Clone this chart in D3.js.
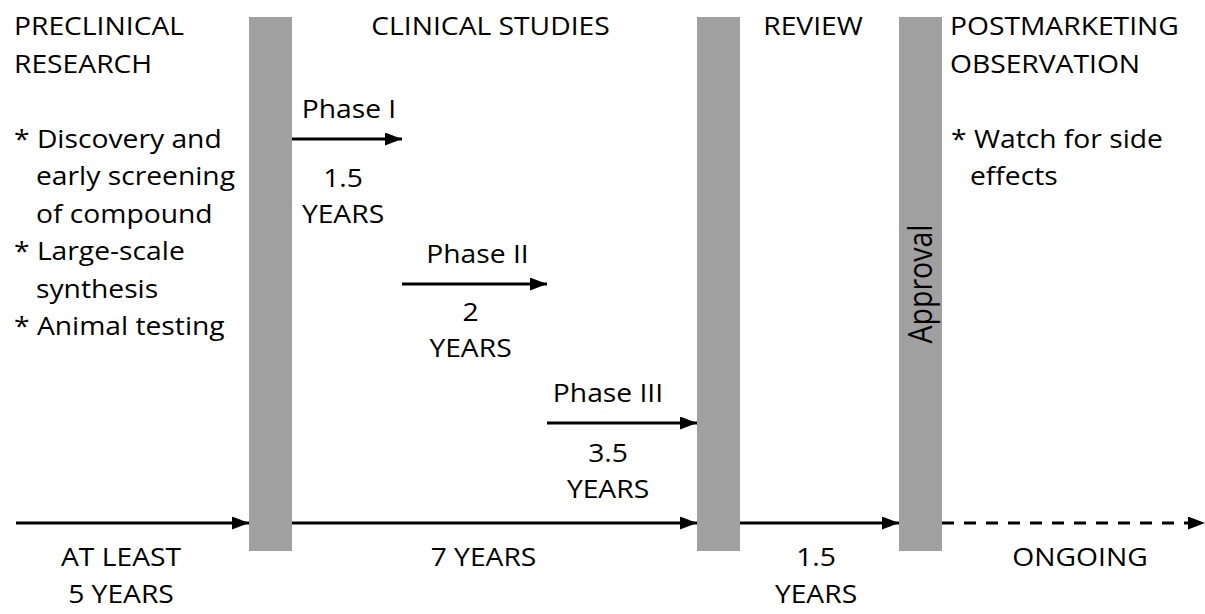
<!DOCTYPE html>
<html>
<head>
<meta charset="utf-8">
<script src="https://cdn.jsdelivr.net/npm/d3@7"></script>
<style>
  body { margin: 0; background: #fff; }
  text { font-family: "Open Sans", "Noto Sans", sans-serif; font-size: 25px; fill: #000; }
</style>
</head>
<body>
<div id="chart"></div>
<script>
// stages between the gray gates
var stageTitles = [["PRECLINICAL", "RESEARCH"], ["CLINICAL STUDIES"], ["REVIEW"], ["POSTMARKETING", "OBSERVATION"]];
var stageDurations = [["AT LEAST", "5 YEARS"], ["7 YEARS"], ["1.5", "YEARS"], ["ONGOING"]];
var stageNotes = [
  ["* Discovery and", "  early screening", "  of compound", "* Large-scale", "  synthesis", "* Animal testing"],
  [], [],
  ["* Watch for side", "  effects"]
];
var gates = ["", "", "Approval"];

// clinical phases
var phases = ["Phase I", "Phase II", "Phase III"];
var phaseYears = ["1.5", "2", "3.5"];

var width = 1205, height = 614;
var stretch = 1.13;   // reference lettering is a bit wide

var svg = d3.select("#chart").append("svg").attr("width", width).attr("height", height);

svg.append("defs").append("marker")
    .attr("id", "head")
    .attr("viewBox", "0 0 17 13")
    .attr("refX", 17).attr("refY", 6.5)
    .attr("markerWidth", 17).attr("markerHeight", 13)
    .attr("markerUnits", "userSpaceOnUse")
    .attr("orient", "auto")
  .append("path").attr("d", "M0,0L17,6.5L0,13Z").attr("fill", "#000");

// gate i sits at x(i+1), stage k runs from x(k) to x(k+1)
var x = d3.scaleLinear().domain([0, 1, 2, 3, 4]).range([-21.5, 270.5, 718.5, 920.5, 1226.5]);
var gateW = 43;
var y = d3.scaleLinear().domain([0, 1]).range([17, 551]);
var lineY = 523;

// phase scale inside the clinical stage
var px = d3.scaleLinear().domain([0, 1, 2, 3]).range([x(1) + gateW / 2, 402, 547, x(2) - gateW / 2]);

function block(sel, cx, cy, lines, anchor, lh, indent) {
  var t = sel.append("text")
      .attr("text-anchor", anchor)
      .attr("transform", "translate(" + cx + "," + cy + ") scale(" + stretch + ",1)");
  lines.forEach(function(s, j) {
    var cont = s.indexOf("  ") == 0;
    t.append("tspan")
        .attr("x", cont ? (indent || 0) / stretch : 0)
        .attr("y", j * lh)
        .text(s.trim());
  });
  return t;
}

// gray gate bars
svg.selectAll("rect.gate").data(gates).enter().append("rect")
    .attr("class", "gate")
    .attr("x", function(d, i) { return x(i + 1) - gateW / 2; })
    .attr("y", y(0))
    .attr("width", gateW)
    .attr("height", y(1) - y(0))
    .attr("fill", "#a0a0a0");

svg.selectAll("text.gate").data(gates).enter().append("text")
    .attr("class", "gate")
    .style("font-size", "28.5px")
    .attr("transform", function(d, i) { return "translate(" + (x(i + 1) + 11.5) + ",284) rotate(-90) scale(1," + stretch + ")"; })
    .attr("text-anchor", "middle")
    .text(function(d) { return d; });

// main timeline arrows
svg.selectAll("line.main").data(stageTitles).enter().append("line")
    .attr("class", "main")
    .attr("x1", function(d, i) { return i == 0 ? 16 : x(i) + gateW / 2; })
    .attr("x2", function(d, i) { return i == 3 ? width : x(i + 1) - gateW / 2; })
    .attr("y1", lineY).attr("y2", lineY)
    .attr("stroke", "#000")
    .attr("stroke-width", 3)
    .attr("stroke-dasharray", function(d, i) { return i == 3 ? "12,10" : null; })
    .attr("marker-end", "url(#head)");

// stage titles and notes
var titleAnchor = ["start", "middle", "middle", "start"];
var titleX = [14, (x(1) + x(2)) / 2 - 4, 813, x(3) + gateW / 2 + 8];
stageTitles.forEach(function(d, i) {
  block(svg, titleX[i], 35, d, titleAnchor[i], 38);
});
stageNotes.forEach(function(d, i) {
  if (d.length) block(svg, i == 0 ? 14 : titleX[i] + 1, 148, d, "start", 37.5, i == 0 ? 22 : 19);
});

// durations under the timeline
var durX = [121, (x(1) + x(2)) / 2 - 11, 816, 1080];
stageDurations.forEach(function(d, i) {
  block(svg, durX[i], 566, d, "middle", 37.5);
});

// phase arrows and labels
var phaseY = [139, 284, 423];
var labelShift = [2, 3, -14];
var yearShift = [-4, -4, -14];
var yearDrop = [48, 37, 39];
var g = svg.selectAll("g.phase").data(phases).enter().append("g").attr("class", "phase");
g.append("line")
    .attr("x1", function(d, i) { return px(i); })
    .attr("x2", function(d, i) { return px(i + 1); })
    .attr("y1", function(d, i) { return phaseY[i]; })
    .attr("y2", function(d, i) { return phaseY[i]; })
    .attr("stroke", "#000")
    .attr("stroke-width", 3)
    .attr("marker-end", "url(#head)");
g.each(function(d, i) {
  var mid = (px(i) + px(i + 1)) / 2;
  block(d3.select(this), mid + labelShift[i], phaseY[i] - 21, [d], "middle", 0);
  block(d3.select(this), mid + yearShift[i], phaseY[i] + yearDrop[i], [phaseYears[i], "YEARS"], "middle", 36.5);
});
</script>
</body>
</html>
